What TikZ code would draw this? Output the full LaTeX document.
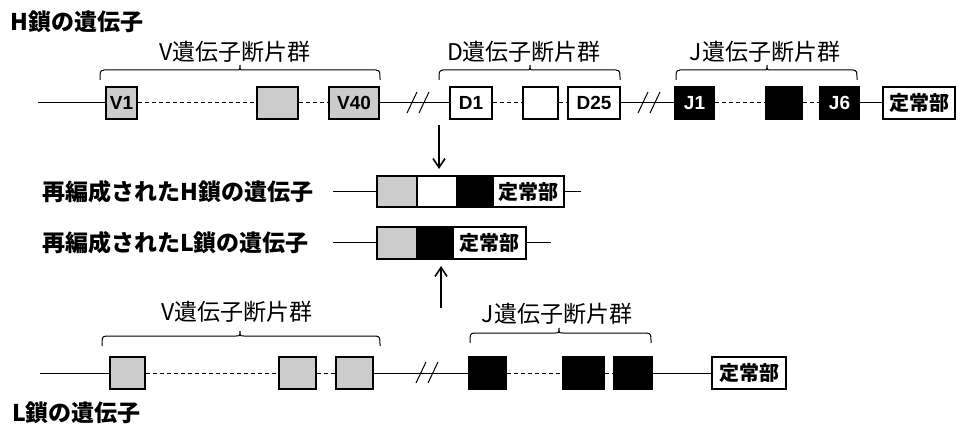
\documentclass[tikz,border=0pt]{standalone}
\usepackage{fontspec}
\setmainfont{Noto Sans CJK JP}
\newfontfamily\boxfont{Liberation Sans}
\usetikzlibrary{arrows.meta}
\newcommand{\genebrace}[4]{%
  \draw[brc] (#1,#4+10) .. controls (#1,#4+1) .. (#1+4,#4) -- (#3-4,#4)
    .. controls (#3,#4) .. (#3,#4-5) .. controls (#3,#4) .. (#3+4,#4)
    -- (#2-4,#4) .. controls (#2,#4+1) .. (#2,#4+10);}
\begin{document}
\begin{tikzpicture}[x=1pt,y=-1pt,
  seg/.style={draw, line width=1.1pt, inner sep=0pt, minimum height=32,
    font=\boxfont\bfseries\fontsize{19}{19}\selectfont},
  gbox/.style={seg, fill=gray!40},
  wbox/.style={seg, fill=white},
  bbox/.style={seg, fill=black, text=white},
  cbox/.style={seg, fill=white, font=\bfseries\fontsize{20}{20}\selectfont},
  ln/.style={line width=1pt},
  dl/.style={line width=1pt, dash pattern=on 4pt off 3pt},
  brc/.style={line width=1pt},
  arr/.style={line width=1.6pt, -{Straight Barb[length=9pt,width=12pt]}},
  ttl/.style={font=\bfseries\fontsize{23}{23}\selectfont, inner sep=0pt},
  grp/.style={font=\fontsize{23}{23}\selectfont, inner sep=0pt},
  brk/.pic={\draw[line width=1pt] (-12,10) -- (-2,-11); \draw[line width=1pt] (0,10) -- (10,-11);}
]
\useasboundingbox (0,0) rectangle (960,427);

% ---------- H chain ----------
\node[ttl, anchor=west] (ht) at (10,22) {H鎖の遺伝子};
\node[grp] (hvl) at (235,52) {V遺伝子断片群};
\node[grp] (hdl) at (524,52) {D遺伝子断片群};
\node[grp] (hjl) at (765,52) {J遺伝子断片群};
\genebrace{100}{380}{240}{70}
\genebrace{439}{620}{530}{70}
\genebrace{676}{857}{767}{70}

\coordinate (hs) at (38,103);
\node[gbox, minimum width=31] (v1) at (121.5,103) {V1};
\node[gbox, minimum width=41] (v2) at (277.5,103) {};
\node[gbox, minimum width=50] (v40) at (354,103) {V40};
\node[wbox, minimum width=42] (d1) at (471,103) {D1};
\node[wbox, minimum width=35] (d2) at (540.5,103) {};
\node[wbox, minimum width=52] (d25) at (594,103) {D25};
\node[bbox, minimum width=39] (j1) at (694.5,103) {J1};
\node[bbox, minimum width=36] (j2) at (784,103) {};
\node[bbox, minimum width=39] (j6) at (839.5,103) {J6};
\node[cbox, minimum width=72] (hc) at (919,103) {定常部};

\draw[ln] (hs) -- (v1.west);
\draw[dl] (v1.east) -- (v2.west);
\draw[dl] (v2.east) -- (v40.west);
\draw[ln] (v40.east) -- (d1.west);
\draw[dl] (d1.east) -- (d2.west);
\draw[dl] (d2.east) -- (d25.west);
\draw[ln] (d25.east) -- (j1.west);
\draw[dl] (j1.east) -- (j2.west);
\draw[dl] (j2.east) -- (j6.west);
\draw[ln] (j6.east) -- (hc.west);
\pic at (419,103) {brk};
\pic at (650,103) {brk};

% ---------- rearranged genes ----------
\coordinate (a1s) at (439,125);
\coordinate (a1e) at (439,169);
\draw[arr] (a1s) -- (a1e);

\node[ttl, anchor=west] (rht) at (42,191.5) {再編成されたH鎖の遺伝子};
\node[gbox, minimum width=40, minimum height=31] (rhv) at (397,191.5) {};
\node[wbox, minimum width=40, minimum height=31] (rhd) at (437,191.5) {};
\node[bbox, minimum width=36, minimum height=31] (rhj) at (475,191.5) {};
\node[cbox, minimum width=71, minimum height=31] (rhc) at (528.5,191.5) {定常部};
\coordinate (rhs) at (333,191.5);
\coordinate (rhe) at (581,191.5);
\draw[ln] (rhs) -- (rhv.west);
\draw[ln] (rhc.east) -- (rhe);

\node[ttl, anchor=west] (rlt) at (42,243) {再編成されたL鎖の遺伝子};
\node[gbox, minimum width=40] (rlv) at (397,243) {};
\node[bbox, minimum width=36] (rlj) at (435,243) {};
\node[cbox, minimum width=73] (rlc) at (489.5,243) {定常部};
\coordinate (rls) at (333,243);
\coordinate (rle) at (551,243);
\draw[ln] (rls) -- (rlv.west);
\draw[ln] (rlc.east) -- (rle);

\coordinate (a2s) at (441,308);
\coordinate (a2e) at (441,266);
\draw[arr] (a2s) -- (a2e);

% ---------- L chain ----------
\node[grp] (lvl) at (237,312) {V遺伝子断片群};
\node[grp] (ljl) at (557,314) {J遺伝子断片群};
\genebrace{102}{380}{240}{336}
\genebrace{470}{651}{559}{333}

\coordinate (ls) at (40,373);
\node[gbox, minimum width=35] (lv1) at (127.5,373) {};
\node[gbox, minimum width=37] (lv2) at (297.5,373) {};
\node[gbox, minimum width=37] (lv3) at (354.5,373) {};
\node[bbox, minimum width=37] (lj1) at (487.5,373) {};
\node[bbox, minimum width=41] (lj2) at (583.5,373) {};
\node[bbox, minimum width=38] (lj3) at (633,373) {};
\node[cbox, minimum width=74] (lc) at (749,373) {定常部};

\draw[ln] (ls) -- (lv1.west);
\draw[dl] (lv1.east) -- (lv2.west);
\draw[dl] (lv2.east) -- (lv3.west);
\draw[ln] (lv3.east) -- (lj1.west);
\draw[dl] (lj1.east) -- (lj2.west);
\draw[dl] (lj2.east) -- (lj3.west);
\draw[ln] (lj3.east) -- (lc.west);
\pic at (428,373) {brk};

\node[ttl, anchor=west] (lt) at (12,413) {L鎖の遺伝子};
\end{tikzpicture}
\end{document}
